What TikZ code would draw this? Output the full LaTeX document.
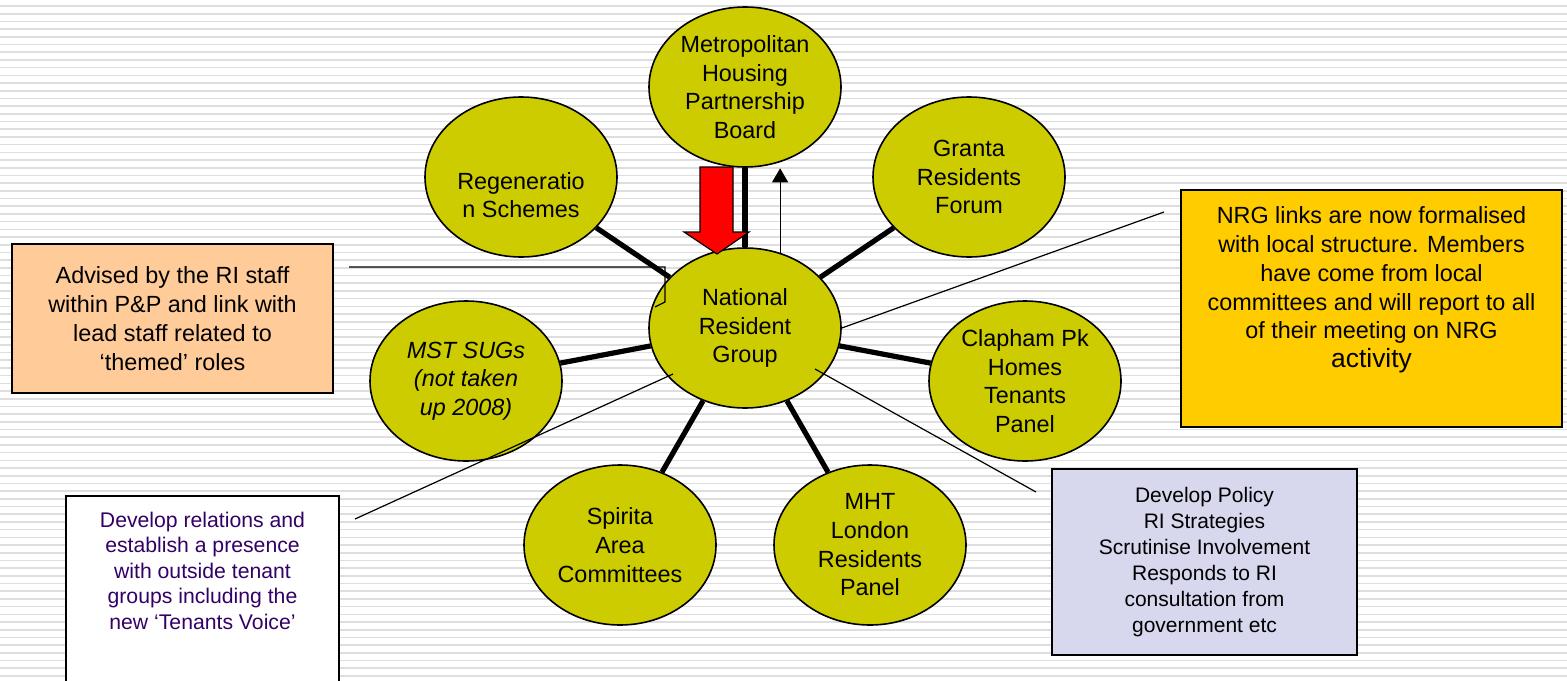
\documentclass[tikz,border=0pt]{standalone}
\usepackage{fontspec}
\setmainfont{Liberation Sans}
\usepackage{xcolor}
\usepackage{tikz}
\usetikzlibrary{shapes.geometric, arrows.meta}

\definecolor{bubblefill}{RGB}{204,204,0}
\definecolor{advicefill}{RGB}{255,204,153}
\definecolor{notefill}{RGB}{255,204,0}
\definecolor{policyfill}{RGB}{215,215,237}
\definecolor{outreachpurple}{RGB}{51,0,102}
\definecolor{arrowred}{RGB}{255,0,0}

\begin{document}
\begin{tikzpicture}[x=0.5pt, y=-0.5pt, line width=0.6pt,
    bubble/.style={ellipse, draw, line width=0.8pt, fill=bubblefill,
      minimum width=96pt, minimum height=80pt, inner sep=0pt, align=center,
      font=\fontsize{11.7}{14.35}\selectfont},
    spoke/.style={line width=2.6pt},
    notebox/.style={draw, line width=1pt, inner sep=0pt},
    notetext/.style={align=center, inner sep=0pt, anchor=north},
    callout/.style={line width=0.6pt},
    ruling/.style={draw=black!13, line width=0.8pt}]
    \useasboundingbox (0,0) rectangle (1567,680);
    \clip (0,0) rectangle (1567,680);
    \fill[white] (0,0) rectangle (1567,680);
    \foreach \k in {0,...,87}
      \draw[ruling] (0,6+7.7*\k) -- (1567,6+7.7*\k);

    % side notes
    \node[notebox, fill=advicefill, minimum width=160.5pt, minimum height=74.5pt,
          align=center, font=\fontsize{11.7}{14.5}\selectfont] (advice) at (172.5,318.5)
          {Advised by the RI staff\\within P\&P and link with\\lead staff related to\\`themed' roles};
    \node[notebox, fill=notefill, minimum width=190.5pt, minimum height=118.5pt] (nrgnote) at (1371.5,308.5) {};
    \node[notetext, font=\fontsize{11.7}{14.35}\selectfont] (nrgnotetext) at ([yshift=-8.7pt]nrgnote.north)
          {NRG links are now formalised\\with local structure. Members\\have come from local\\committees and will report to all\\of their meeting on NRG\\{\fontsize{13.2}{16}\selectfont activity}};
    \node[notebox, fill=white, minimum width=136.5pt, minimum height=104pt] (outreach) at (202.5,600) {};
    \node[notetext, text=outreachpurple, font=\fontsize{10.6}{12.75}\selectfont] (outreachtext) at ([yshift=-8.25pt]outreach.north)
          {Develop relations and\\establish a presence\\with outside tenant\\groups including the\\new `Tenants Voice'};
    \node[notebox, fill=policyfill, minimum width=152.5pt, minimum height=93pt,
          align=center, font=\fontsize{10.5}{13}\selectfont] (policy) at (1204.5,562)
          {Develop Policy\\RI Strategies\\Scrutinise Involvement\\Responds to RI\\consultation from\\government etc};

    % bubbles
    \node[bubble] (metro) at (745,87) {Metropolitan\\Housing\\Partnership\\Board};
    \node[bubble] (regen) at (521,177) {};
    \node[align=center, inner sep=0pt, font=\fontsize{11.7}{14.35}\selectfont] (regentext) at (521,195) {Regeneratio\\n Schemes};
    \node[bubble] (granta) at (969,177) {Granta\\Residents\\Forum};
    \node[bubble] (nrg) at (745,328) {National\\Resident\\Group};
    \node[bubble, font=\fontsize{11.7}{14.35}\selectfont\itshape] (mst) at (466,381) {MST SUGs\\(not taken\\up 2008)};
    \node[bubble] (clapham) at (1025,381) {Clapham Pk\\Homes\\Tenants\\Panel};
    \node[bubble] (spirita) at (620,545) {Spirita\\Area\\Committees};
    \node[bubble] (mht) at (870,545) {MHT\\London\\Residents\\Panel};

    \foreach \leaf in {metro, regen, granta, mst, clapham, spirita, mht}
      \draw[spoke] (nrg) -- (\leaf);

    % arrows between board and group
    \draw[fill=arrowred] (700,167) -- (733,167) -- (733,232) -- (749,232)
          -- (717,254) -- (684,232) -- (700,232) -- cycle;
    \draw[callout, -{Triangle[width=8pt,length=7pt]}, shorten >=3pt] (nrg.65) -- (metro.-65);

    % callout lines
    \coordinate (advicebend) at (665,268);
    \draw[callout] ([xshift=7.5pt,yshift=-12pt]advice.north east) coordinate (advicestart)
          -- (advicestart -| advicebend) -- ++(0,35) -- ++(-10,5);
    \draw[callout] (nrg.east) -- ([xshift=-8pt,yshift=-11.5pt]nrgnote.north west);
    \draw[callout] ([xshift=35pt,yshift=-20.5pt]nrg.center) -- ([xshift=-7.5pt,yshift=-12pt]policy.north west);
    \draw[callout] ([xshift=-36pt,yshift=-23pt]nrg.center) -- ([xshift=7.5pt,yshift=-12pt]outreach.north east);
\end{tikzpicture}
\end{document}
